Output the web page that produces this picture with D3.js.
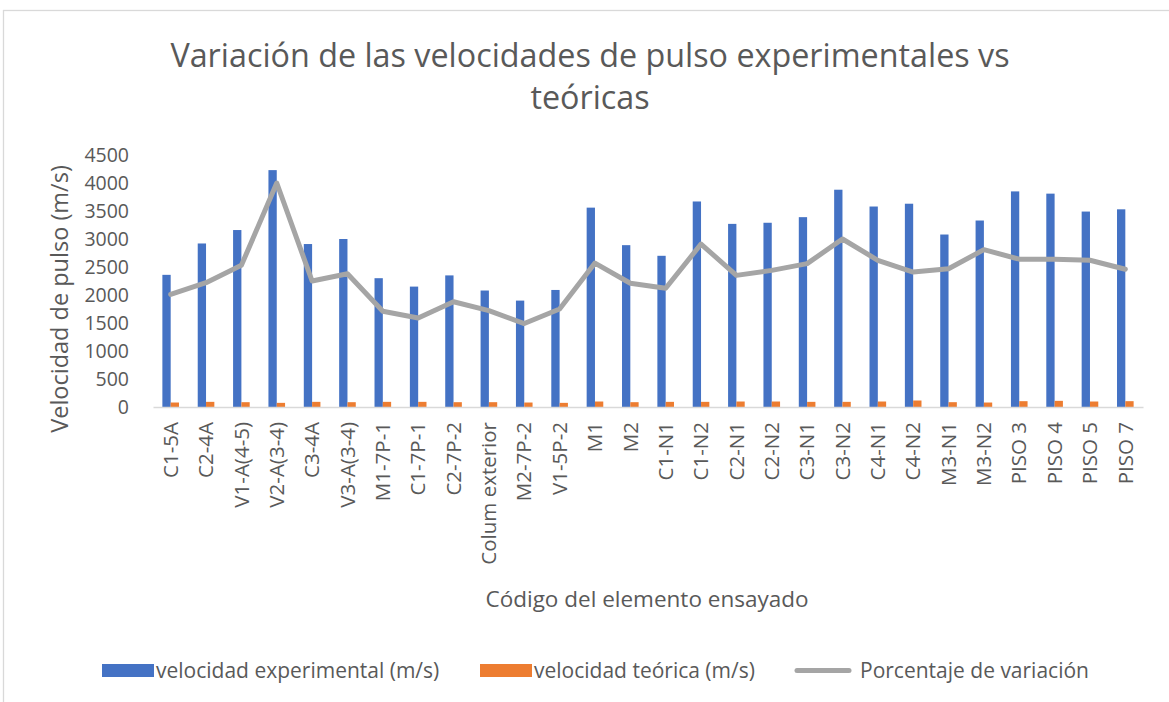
<!DOCTYPE html>
<html>
<head>
<meta charset="utf-8">
<script src="https://cdn.jsdelivr.net/npm/d3@7/dist/d3.min.js"></script>
<style>
  html, body { margin: 0; padding: 0; background: #fff; }
  svg { display: block; }
  text { font-family: "Open Sans", "Noto Sans", sans-serif; fill: #595959; }
</style>
</head>
<body>
<svg id="chart" width="1169" height="702"></svg>
<script>
// Element codes tested
const categories = [
  "C1-5A", "C2-4A", "V1-A(4-5)", "V2-A(3-4)", "C3-4A", "V3-A(3-4)", "M1-7P-1",
  "C1-7P-1", "C2-7P-2", "Colum exterior", "M2-7P-2", "V1-5P-2", "M1", "M2",
  "C1-N1", "C1-N2", "C2-N1", "C2-N2", "C3-N1", "C3-N2", "C4-N1", "C4-N2",
  "M3-N1", "M3-N2", "PISO 3", "PISO 4", "PISO 5", "PISO 7"
];

// Measured pulse velocity (m/s)
const velExperimental = [
  2360, 2920, 3160, 4230, 2910, 3000, 2300,
  2150, 2350, 2080, 1900, 2090, 3560, 2890,
  2700, 3670, 3270, 3290, 3390, 3880, 3580, 3630,
  3080, 3330, 3850, 3810, 3490, 3530
];

// Theoretical pulse velocity (m/s)
const velTeorica = [
  80, 92, 86, 74, 92, 86, 92,
  92, 86, 86, 80, 74, 98, 86,
  92, 92, 98, 98, 92, 92, 98, 116,
  86, 80, 104, 110, 98, 104
];

// Variation series
const porcentajeVariacion = [
  2010, 2220, 2530, 4000, 2250, 2380, 1710,
  1590, 1880, 1720, 1490, 1750, 2570, 2210,
  2120, 2910, 2350, 2440, 2560, 3000, 2620, 2410,
  2470, 2810, 2640, 2640, 2620, 2460
];

const yTicks = [0, 500, 1000, 1500, 2000, 2500, 3000, 3500, 4000, 4500];

const seriesNames = ["velocidad experimental (m/s)", "velocidad teórica (m/s)", "Porcentaje de variación"];
const colors = ["#4472C4", "#ED7D31", "#A5A5A5"];

const svg = d3.select("#chart");

// chart frame
svg.append("rect")
  .attr("x", 3.5).attr("y", 10.5)
  .attr("width", 1180).attr("height", 710)
  .attr("fill", "none").attr("stroke", "#D9D9D9").attr("stroke-width", 1.3);

const plot = { left: 153, right: 1143, top: 155, bottom: 407 };

const x0 = d3.scaleBand()
  .domain(categories)
  .range([plot.left, plot.right])
  .paddingInner(0.53)
  .paddingOuter(0.265);

const x1 = d3.scaleBand()
  .domain([0, 1])
  .range([0, x0.bandwidth()]);

const y = d3.scaleLinear()
  .domain([0, 4500])
  .range([plot.bottom, plot.top]);

// title
const title = svg.append("text")
  .attr("text-anchor", "middle")
  .attr("font-size", 32.3);
title.append("tspan").attr("x", 590).attr("y", 67)
  .text("Variación de las velocidades de pulso experimentales vs");
title.append("tspan").attr("x", 590).attr("y", 109)
  .text("teóricas");

// y axis (labels only)
const yAxis = d3.axisLeft(y).tickValues(yTicks).tickFormat(d3.format("d")).tickSize(0).tickPadding(0);
const gy = svg.append("g")
  .attr("transform", `translate(${plot.left - 24},0)`)
  .call(yAxis);
gy.select(".domain").remove();
gy.selectAll("text")
  .attr("font-size", 19.5)
  .attr("fill", "#595959")
  .attr("font-family", "\"Open Sans\", sans-serif");

// bars
const groups = svg.append("g").selectAll("g")
  .data(categories)
  .join("g")
  .attr("transform", d => `translate(${x0(d)},0)`);

groups.append("rect")
  .attr("x", x1(0))
  .attr("width", x1.bandwidth())
  .attr("y", (d, i) => y(velExperimental[i]))
  .attr("height", (d, i) => y(0) - y(velExperimental[i]))
  .attr("fill", colors[0]);

groups.append("rect")
  .attr("x", x1(1))
  .attr("width", x1.bandwidth())
  .attr("y", (d, i) => y(velTeorica[i]))
  .attr("height", (d, i) => y(0) - y(velTeorica[i]))
  .attr("fill", colors[1]);

// x axis line and rotated category labels
const xAxis = d3.axisBottom(x0).tickSize(0).tickPadding(0);
const gx = svg.append("g")
  .attr("transform", `translate(0,${plot.bottom})`)
  .call(xAxis);
gx.select(".domain")
  .attr("stroke", "#D9D9D9")
  .attr("stroke-width", 1.5);
gx.selectAll(".tick text")
  .attr("font-size", 20.5)
  .attr("fill", "#595959")
  .attr("font-family", "\"Open Sans\", sans-serif")
  .attr("text-anchor", "end")
  .attr("dy", "0.35em")
  .attr("transform", "translate(0,15) rotate(-90)")
  .attr("y", 0)
  .attr("x", 0);

// variation line
const line = d3.line()
  .x((d, i) => x0(categories[i]) + x0.bandwidth() / 2)
  .y(d => y(d));

svg.append("path")
  .datum(porcentajeVariacion)
  .attr("d", line)
  .attr("fill", "none")
  .attr("stroke", colors[2])
  .attr("stroke-width", 5)
  .attr("stroke-linejoin", "round")
  .attr("stroke-linecap", "round");

// axis titles
svg.append("text")
  .attr("transform", `translate(68,299) rotate(-90)`)
  .attr("text-anchor", "middle")
  .attr("font-size", 23.5)
  .text("Velocidad de pulso (m/s)");

svg.append("text")
  .attr("x", 647).attr("y", 607)
  .attr("text-anchor", "middle")
  .attr("font-size", 22.5)
  .text("Código del elemento ensayado");

// legend
const legend = svg.append("g");
const legendItems = [
  { x: 102, text: seriesNames[0], color: colors[0], type: "rect" },
  { x: 480, text: seriesNames[1], color: colors[1], type: "rect" },
  { x: 795, text: seriesNames[2], color: colors[2], type: "line" }
];
legendItems.forEach(it => {
  if (it.type === "rect") {
    legend.append("rect")
      .attr("x", it.x).attr("y", 664)
      .attr("width", 52).attr("height", 13)
      .attr("fill", it.color);
  } else {
    legend.append("line")
      .attr("x1", it.x + 2).attr("x2", it.x + 54)
      .attr("y1", 670.5).attr("y2", 670.5)
      .attr("stroke", it.color).attr("stroke-width", 5)
      .attr("stroke-linecap", "round");
  }
  legend.append("text")
    .attr("x", it.x + (it.type === "rect" ? 54 : 65)).attr("y", 670.5)
    .attr("dy", "0.35em")
    .attr("font-size", 21)
    .text(it.text);
});
</script>
</body>
</html>
